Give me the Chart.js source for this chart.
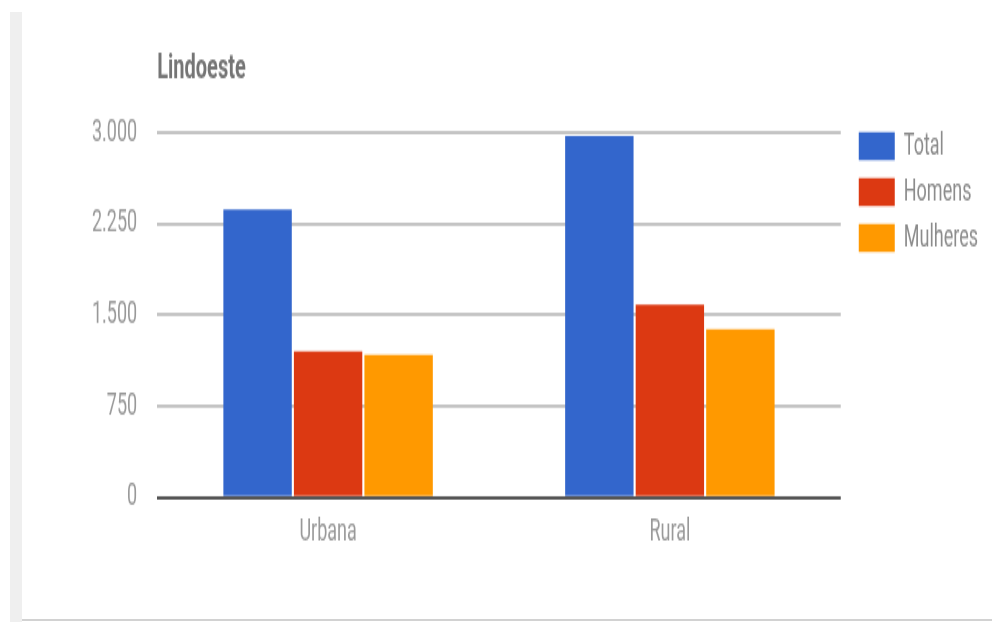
<!DOCTYPE html>
<html>
<head>
<meta charset="utf-8">
<title>Lindoeste</title>
<script src="https://cdn.jsdelivr.net/npm/chart.js@4"></script>
<style>
  html, body { margin: 0; padding: 0; background: #fff; width: 992px; height: 622px; overflow: hidden; }
  #strip { position: absolute; left: 10px; top: 12px; width: 12px; height: 610px; background: #efefef; }
  #baseline { position: absolute; left: 22px; top: 619px; width: 970px; height: 2px; background: #d2d2d2; }
  /* the original picture is stretched vertically, so the chart is drawn short and scaled */
  #stage { position: absolute; left: 0; top: 0; width: 992px; height: 366px; transform-origin: 0 0; transform: scaleY(1.69945); }
</style>
</head>
<body>
<div id="strip"></div>
<div id="baseline"></div>
<div id="stage"><canvas id="myChart" width="992" height="366"></canvas></div>
<script>
const categories = ["Urbana", "Rural"];
const total = [2370, 2975];
const homens = [1200, 1585];
const mulheres = [1175, 1385];
const yTickLabels = ["0", "750", "1.500", "2.250", "3.000"];

const data = {
    labels: categories,
    datasets: [
        { label: "Total", data: total, backgroundColor: "#3366cc" },
        { label: "Homens", data: homens, backgroundColor: "#dc3912" },
        { label: "Mulheres", data: mulheres, backgroundColor: "#ff9900" },
    ],
};

const config = {
    type: "bar",
    data,
    options: {
        responsive: false,
        animation: false,
        devicePixelRatio: 1,
        layout: {
            padding: { left: 72, right: 4, top: 0, bottom: 40.5 },
        },
        datasets: {
            bar: { categoryPercentage: 0.619, barPercentage: 0.97 },
        },
        scales: {
            x: {
                grid: { display: false },
                border: { display: false },
                ticks: {
                    color: "#999999",
                    font: { family: "Roboto", size: 18 },
                    padding: 1.6,
                },
            },
            y: {
                min: 0,
                max: 3000,
                border: { display: false },
                grid: {
                    drawTicks: false,
                    lineWidth: 2,
                    color: (c) => (c.tick && c.tick.value === 0 ? "#555555" : "#c4c4c4"),
                },
                ticks: {
                    stepSize: 750,
                    color: "#999999",
                    font: { family: "Roboto", size: 18 },
                    padding: 20,
                    callback: (value, index) => yTickLabels[index],
                },
            },
            // empty spacer between plot and legend
            y2: {
                position: "right",
                grid: { display: false },
                border: { display: false },
                ticks: { display: false },
                afterFit(scale) { scale.width = 9; },
            },
        },
        plugins: {
            title: {
                display: true,
                text: "Lindoeste",
                align: "start",
                fullSize: false,
                color: "#757575",
                font: { family: "Roboto", size: 20, weight: "bold", lineHeight: 1.2 },
                padding: { top: 28.6, bottom: 25.5 },
            },
            legend: {
                position: "right",
                align: "start",
                title: {
                    display: true,
                    text: "",
                    font: { size: 10, lineHeight: 1 },
                    padding: { top: 58, bottom: 0 },
                },
                labels: {
                    boxWidth: 36,
                    boxHeight: 16.5,
                    padding: 9,
                    color: "#8c8c8c",
                    font: { family: "Roboto", size: 18 },
                },
            },
            tooltip: { enabled: false },
        },
    },
};

const myChart = new Chart(document.getElementById("myChart"), config);
</script>
</body>
</html>
